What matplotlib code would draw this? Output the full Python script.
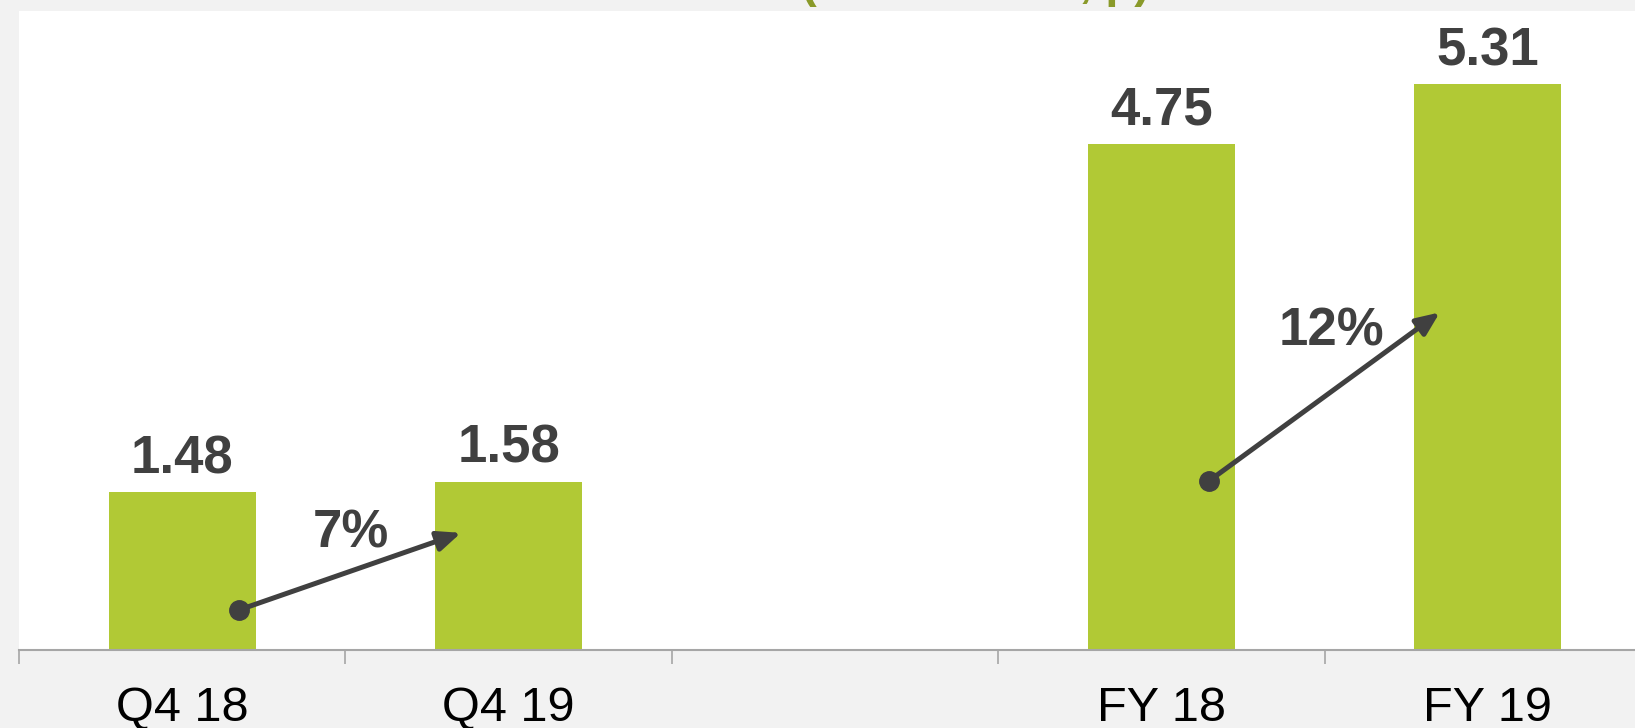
import matplotlib
matplotlib.use("Agg")
import matplotlib.pyplot as plt
import numpy as np

plt.rcParams["font.family"] = ["Liberation Sans", "DejaVu Sans"]

# data
categories = ["Q4 18", "Q4 19", "", "FY 18", "FY 19"]
values = [1.48, 1.58, np.nan, 4.75, 5.31]
growth_labels = ["7%", "12%"]

BAR_COLOR = "#b1c935"
TEXT_DARK = "#404040"
AXIS_GREY = "#a6a6a6"
BG = "#f2f2f2"

W, H = 1635, 728
fig = plt.figure(figsize=(W / 100, H / 100), dpi=100, facecolor=BG)
ax = fig.add_axes([19 / W, 78 / H, (W - 19) / W, (650 - 11) / H])
ax.set_facecolor("white")

x = np.arange(len(categories))
ax.bar(x, values, width=0.45, color=BAR_COLOR, zorder=2)

for xi, v in zip(x, values):
    if np.isnan(v):
        continue
    ax.annotate(f"{v:.2f}", (xi, v), xytext=(0, 6), textcoords="offset points",
                ha="center", va="bottom", fontsize=38, fontweight="bold",
                color=TEXT_DARK)

# growth arrows (start, end, label position in data units)
arrows = [
    ((0.174, 0.376), (0.854, 1.10), (0.517, 1.09)),
    ((3.147, 1.59), (3.853, 3.17), (3.521, 2.99)),
]
for (start, end, lab_pos), lab in zip(arrows, growth_labels):
    ax.annotate("", xy=end, xytext=start,
                arrowprops=dict(arrowstyle="-|>,head_length=1.4,head_width=0.6",
                                color=TEXT_DARK, lw=3.6, shrinkA=0, shrinkB=0),
                zorder=4)
    ax.plot(*start, "o", color=TEXT_DARK, markersize=14, zorder=5)
    ax.text(*lab_pos, lab, ha="center", va="center", fontsize=38,
            fontweight="bold", color=TEXT_DARK, zorder=5)

for s in ["top", "right", "left"]:
    ax.spines[s].set_visible(False)
ax.spines["bottom"].set_color(AXIS_GREY)
ax.spines["bottom"].set_linewidth(1.5)
ax.set_yticks([])

ax.set_xticks(np.arange(-0.5, 5.0, 1.0))
ax.set_xticklabels([])
ax.tick_params(axis="x", which="major", direction="out", length=10,
               width=1.2, color=AXIS_GREY)
ax.set_xticks(x, minor=True)
ax.set_xticklabels(categories, minor=True, fontsize=35, color="black")
ax.tick_params(axis="x", which="minor", length=0, pad=26)

# limits last, set_xticks would widen them
ax.set_xlim(-0.5, 4.5 - 16 / 326.4)
ax.set_ylim(0, 6.0)

# title mostly cut off by the top edge
fig.text(975 / W, 1.0 + 3 / H, "(EPS in EUR, p)", ha="center", va="baseline",
         fontsize=34, fontweight="bold", color="#8a9a2a")

fig.savefig("out.png", dpi=100, facecolor=BG)
